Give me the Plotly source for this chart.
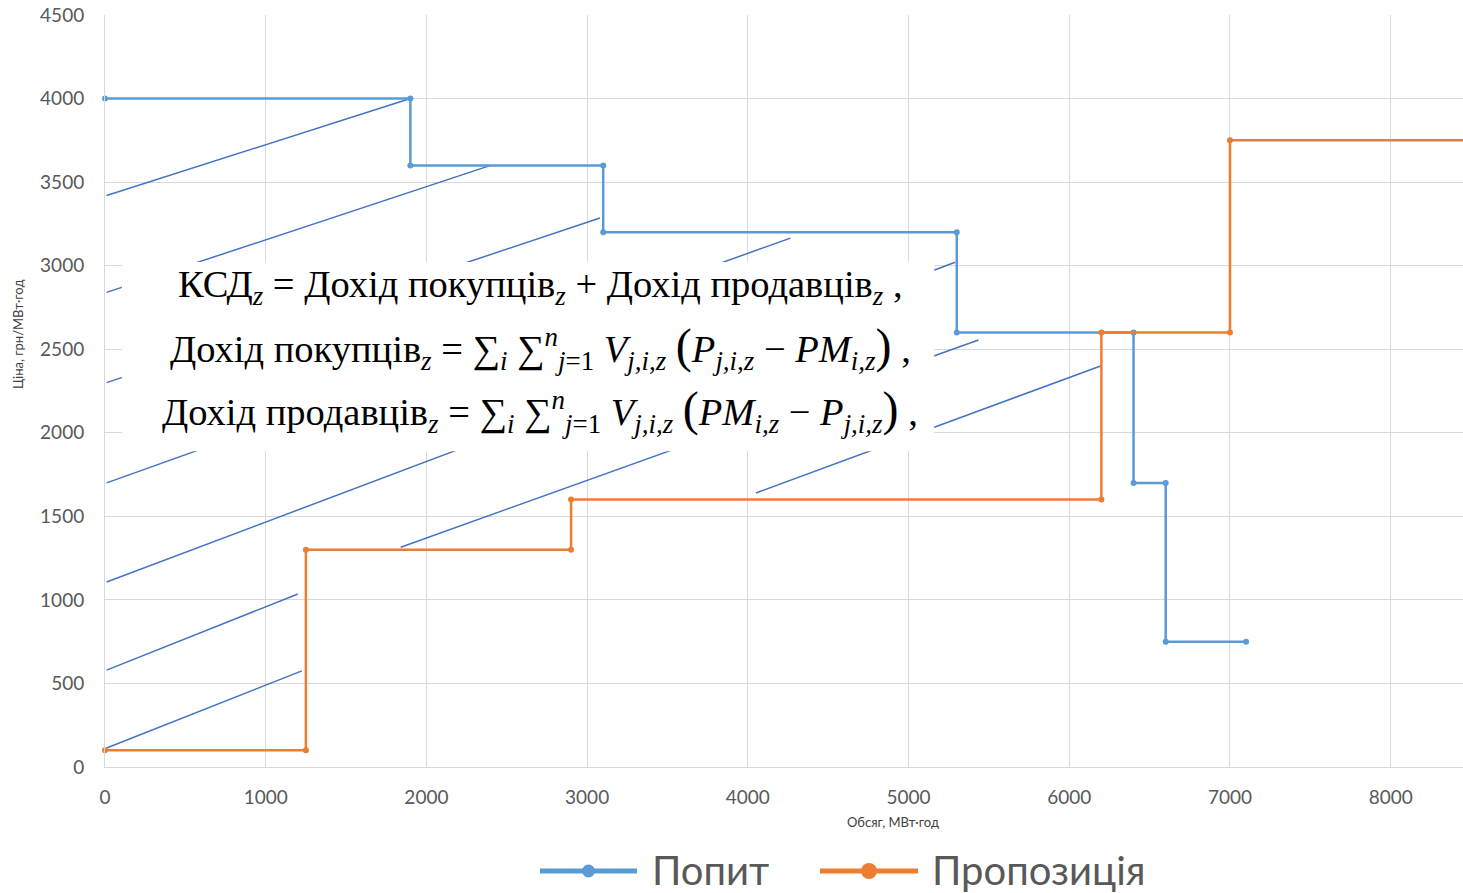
import plotly.graph_objects as go

# ---- data ----
demand_x = [0, 1900, 1900, 3100, 3100, 5300, 5300, 6400, 6400, 6600, 6600, 7100]
demand_y = [4000, 4000, 3600, 3600, 3200, 3200, 2600, 2600, 1700, 1700, 750, 750]
supply_x = [0, 1250, 1250, 2900, 2900, 6200, 6200, 7000, 7000, 8600]
supply_y = [100, 100, 1300, 1300, 1600, 1600, 2600, 2600, 3750, 3750]

# hand-drawn hatch segments (data units)
hatch_x0 = [10, 10, 10, 10, 10, 1840, 4050, 10, 10]
hatch_y0 = [3420, 2840, 2300, 1700, 1107, 1315, 1640, 580, 114]
hatch_x1 = [1900, 2400, 3080, 4265, 5290, 5435, 6195, 1200, 1225]
hatch_y1 = [4000, 3600, 3285, 3165, 3020, 2555, 2400, 1035, 575]

x_ticks = [0, 1000, 2000, 3000, 4000, 5000, 6000, 7000, 8000]
y_ticks = [0, 500, 1000, 1500, 2000, 2500, 3000, 3500, 4000, 4500]

series_names = ["Попит", "Пропозиція"]
x_title = "Обсяг, МВт·год"
y_title = "Ціна, грн/МВт·год"

BIG = '<span style="font-size:48px">%s</span>'
formula_lines = [
    "КСД<sub><i>z</i></sub> = Дохід покупців<sub><i>z</i></sub> + Дохід продавців<sub><i>z</i></sub> ,",
    "Дохід покупців<sub><i>z</i></sub> = ∑<sub><i>i</i></sub> ∑<sup><i>n</i></sup><sub><i>j</i>=1</sub> <i>V</i><sub><i>j,i,z</i></sub> "
    + BIG % "(" + "<i>P</i><sub><i>j,i,z</i></sub> − <i>PM</i><sub><i>i,z</i></sub>" + BIG % ")" + " ,",
    "Дохід продавців<sub><i>z</i></sub> = ∑<sub><i>i</i></sub> ∑<sup><i>n</i></sup><sub><i>j</i>=1</sub> <i>V</i><sub><i>j,i,z</i></sub> "
    + BIG % "(" + "<i>PM</i><sub><i>i,z</i></sub> − <i>P</i><sub><i>j,i,z</i></sub>" + BIG % ")" + " ,",
]

BLUE = "#5B9BD5"
ORANGE = "#ED7D31"
HATCH = "#4472C4"
GRID = "#D9D9D9"
TXT = "#595959"

hx, hy = [], []
for a, b, c, d in zip(hatch_x0, hatch_y0, hatch_x1, hatch_y1):
    hx += [a, c, None]
    hy += [b, d, None]

fig = go.Figure()
fig.add_trace(go.Scatter(x=hx, y=hy, mode="lines", line=dict(color=HATCH, width=1.5),
                         showlegend=False, hoverinfo="skip"))
fig.add_trace(go.Scatter(x=demand_x, y=demand_y, mode="lines+markers", name=series_names[0],
                         line=dict(color=BLUE, width=2.5), marker=dict(size=6, color=BLUE),
                         cliponaxis=False, showlegend=False))
fig.add_trace(go.Scatter(x=supply_x, y=supply_y, mode="lines+markers", name=series_names[1],
                         line=dict(color=ORANGE, width=2.5), marker=dict(size=6, color=ORANGE),
                         cliponaxis=False, showlegend=False))

# white formula box
fig.add_shape(type="rect", xref="x", yref="y", x0=105, x1=5160, y0=1890, y1=3022,
              fillcolor="white", line=dict(width=0), layer="above")
for txt, yy in zip(formula_lines, [2872, 2513, 2136]):
    fig.add_annotation(x=2709, y=yy, xref="x", yref="y", text=txt, showarrow=False,
                       font=dict(family="Liberation Serif", size=38.5, color="black"),
                       xanchor="center", yanchor="middle")

W, H = 1463, 893
L, R, T, B = 105, 0, 15, 126
pw, ph = W - L - R, H - T - B
def px(x):
    return (x - L) / pw
def py(y):
    return (H - B - y) / ph

leg_y = 871
for (x0, x1, col, name, tx, msz) in [(540, 637, BLUE, series_names[0], 650, 13),
                                      (820, 918, ORANGE, series_names[1], 930, 16)]:
    fig.add_shape(type="line", xref="paper", yref="paper", x0=px(x0), x1=px(x1),
                  y0=py(leg_y), y1=py(leg_y), line=dict(color=col, width=5))
    xc = (x0 + x1) / 2
    fig.add_shape(type="circle", xref="paper", yref="paper", xsizemode="pixel", ysizemode="pixel",
                  xanchor=px(xc), yanchor=py(leg_y), x0=-msz / 2, x1=msz / 2, y0=-msz / 2, y1=msz / 2,
                  fillcolor=col, line=dict(color=col, width=0))
    fig.add_annotation(x=px(tx), y=py(leg_y - 1), xref="paper", yref="paper", text=name, showarrow=False,
                       xanchor="left", yanchor="middle", font=dict(family="Lato", size=40, color=TXT))

# axis titles
fig.add_annotation(x=px(893), y=py(822), xref="paper", yref="paper", text=x_title, showarrow=False,
                   xanchor="center", yanchor="middle", font=dict(family="Lato", size=13, color="#404040"))
fig.add_annotation(x=px(18), y=py(335), xref="paper", yref="paper", text=y_title, showarrow=False,
                   textangle=-90, xanchor="center", yanchor="middle",
                   font=dict(family="Lato", size=13, color="#404040"))

fig.update_xaxes(range=[0, 8450], tickvals=x_ticks, ticktext=[str(v) for v in x_ticks],
                 showgrid=True, gridcolor=GRID, gridwidth=1, zeroline=False,
                 showline=True, linecolor=GRID, linewidth=1, ticks="", ticklabelstandoff=13,
                 tickfont=dict(family="Lato", size=19, color=TXT))
fig.update_yaxes(range=[0, 4500], tickvals=y_ticks, ticktext=[str(v) for v in y_ticks],
                 showgrid=True, gridcolor=GRID, gridwidth=1, zeroline=False,
                 showline=True, linecolor=GRID, linewidth=1, ticks="", ticklabelstandoff=16,
                 tickfont=dict(family="Lato", size=19, color=TXT))

fig.update_layout(width=W, height=H, margin=dict(l=L, r=R, t=T, b=B, pad=0),
                  paper_bgcolor="white", plot_bgcolor="white", showlegend=False)

fig.write_html("out.html", config={"displayModeBar": False},
               post_script="document.body.style.margin='0';document.body.style.overflow='hidden';")
